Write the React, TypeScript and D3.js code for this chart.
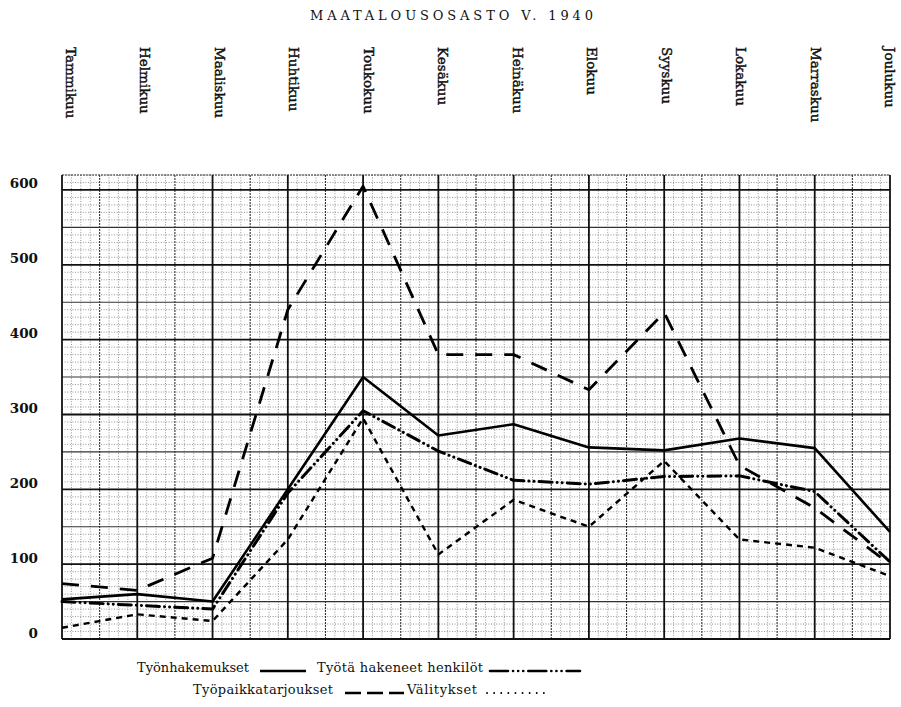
import React from "react";
import * as d3 from "d3";

const title = "MAATALOUSOSASTO V. 1940";
const months = ["Tammikuu", "Helmikuu", "Maaliskuu", "Huhtikuu", "Toukokuu", "Kesäkuu", "Heinäkuu", "Elokuu", "Syyskuu", "Lokakuu", "Marraskuu", "Joulukuu"];
const yTicks = [0, 100, 200, 300, 400, 500, 600];

const tyonhakemukset = [53, 60, 50, 200, 350, 272, 287, 256, 252, 268, 255, 143];
const hakeneetHenkilot = [50, 45, 40, 195, 305, 251, 212, 207, 217, 218, 197, 103];
const tyopaikkatarjoukset = [74, 65, 108, 440, 605, 380, 380, 333, 436, 232, 175, 100];
const valitykset = [15, 33, 24, 133, 295, 113, 186, 150, 238, 133, 122, 84];

const seriesNames = ["Työnhakemukset", "Työtä hakeneet henkilöt", "Työpaikkatarjoukset", "Välitykset"];

const W = 901, H = 707;
const X0 = 62, X1 = 890, YTOP = 175, YBOT = 639;

const styles: Record<string, { dash: string; width: number; cap: string }> = {
  "Työnhakemukset": { dash: "none", width: 2.6, cap: "butt" },
  "Työtä hakeneet henkilöt": { dash: "13,5,0.1,5,0.1,5", width: 3, cap: "round" },
  "Työpaikkatarjoukset": { dash: "17,12", width: 2.8, cap: "butt" },
  "Välitykset": { dash: "6,5", width: 2.4, cap: "butt" },
};

export default function App() {
  const x = d3.scalePoint<string>().domain(months).range([X0, X1]);
  const y = d3.scaleLinear().domain([0, 620]).range([YBOT, YTOP]);
  const step = x.step();

  const seriesData = [tyonhakemukset, hakeneetHenkilot, tyopaikkatarjoukset, valitykset];
  const line = d3.line<number>().x((_, i) => x(months[i]) as number).y((d) => y(d));

  const fineH = d3.range(0, 621, 10).filter((v) => v % 50 !== 0);
  const midH = d3.range(50, 621, 100);
  const fineV: number[] = [];
  for (let i = 0; i < months.length - 1; i++) {
    for (let k = 1; k < 8; k++) if (k !== 4) fineV.push((x(months[i]) as number) + (step * k) / 8);
  }
  const midV = months.slice(0, -1).map((m) => (x(m) as number) + step / 2);

  const labelX = d3.scalePoint<string>().domain(months).range([66, 885]);

  const serif = "DejaVu Serif";

  return (
    <svg width={W} height={H} style={{ display: "block", position: "absolute", left: 0, top: 0, background: "#fff" }}>
      <rect x={0} y={0} width={W} height={H} fill="#fff" />
      <text x={310} y={20} fontFamily={serif} fontSize={13} fill="#111" textLength={283} lengthAdjust="spacing">
        {title}
      </text>
      {months.map((m) => (
        <text key={m} transform={`translate(${labelX(m)},47) rotate(90)`} fontFamily={serif} fontSize={13.5} fill="#111" stroke="#111" strokeWidth={0.45}>
          {m}
        </text>
      ))}

      <g stroke="#7a7a7a" strokeWidth={0.8} strokeDasharray="1,1.6">
        {fineH.map((v) => (
          <line key={"fh" + v} x1={X0} x2={X1} y1={y(v)} y2={y(v)} />
        ))}
        {fineV.map((v, i) => (
          <line key={"fv" + i} x1={v} x2={v} y1={YTOP} y2={YBOT} />
        ))}
      </g>
      <g stroke="#333" strokeWidth={1.1} strokeDasharray="2,1">
        {midV.map((v, i) => (
          <line key={"mv" + i} x1={v} x2={v} y1={YTOP} y2={YBOT} />
        ))}
      </g>
      <g stroke="#333" strokeWidth={1.1}>
        {midH.map((v) => (
          <line key={"mh" + v} x1={X0} x2={X1} y1={y(v)} y2={y(v)} />
        ))}
      </g>
      <line x1={X0} x2={X1} y1={YTOP} y2={YTOP} stroke="#333" strokeWidth={1} strokeDasharray="2,1" />
      <g stroke="#111" strokeWidth={1.8}>
        {yTicks.map((v) => (
          <line key={"h" + v} x1={X0} x2={X1} y1={y(v)} y2={y(v)} />
        ))}
        {months.map((m) => (
          <line key={"v" + m} x1={x(m)} x2={x(m)} y1={YTOP} y2={YBOT} />
        ))}
      </g>

      {yTicks.map((v) => (
        <text key={"t" + v} x={38} y={y(v) - 1.5} textAnchor="end" fontFamily={serif} fontSize={13.5} fontWeight="bold" fill="#111">
          {v}
        </text>
      ))}

      {seriesData.map((data, si) => {
        const st = styles[seriesNames[si]];
        return (
          <path key={seriesNames[si]} d={line(data) || ""} fill="none" stroke="#000" strokeWidth={st.width}
            strokeDasharray={st.dash} strokeLinecap={st.cap as any} strokeLinejoin="round" />
        );
      })}

      <g fontFamily={serif} fontSize={13} fill="#111">
        <text x={137} y={672} textLength={112} lengthAdjust="spacing">{seriesNames[0]}</text>
        <text x={317} y={672} textLength={166} lengthAdjust="spacing">{seriesNames[1]}</text>
        <text x={193} y={694} textLength={140} lengthAdjust="spacing">{seriesNames[2]}</text>
        <text x={407} y={694} textLength={70} lengthAdjust="spacing">{seriesNames[3]}</text>
      </g>
      <line x1={260} x2={306} y1={671} y2={671} stroke="#000" strokeWidth={2.4} />
      <line x1={490} x2={580} y1={671} y2={671} stroke="#000" strokeWidth={2.6} strokeDasharray="18,5,0.1,5,0.1,5,0.1,5" strokeLinecap="round" />
      <line x1={345} x2={404} y1={693} y2={693} stroke="#000" strokeWidth={2.4} strokeDasharray="16,6" />
      <line x1={487} x2={545} y1={693} y2={693} stroke="#000" strokeWidth={1.8} strokeDasharray="0.1,7" strokeLinecap="round" />
    </svg>
  );
}
